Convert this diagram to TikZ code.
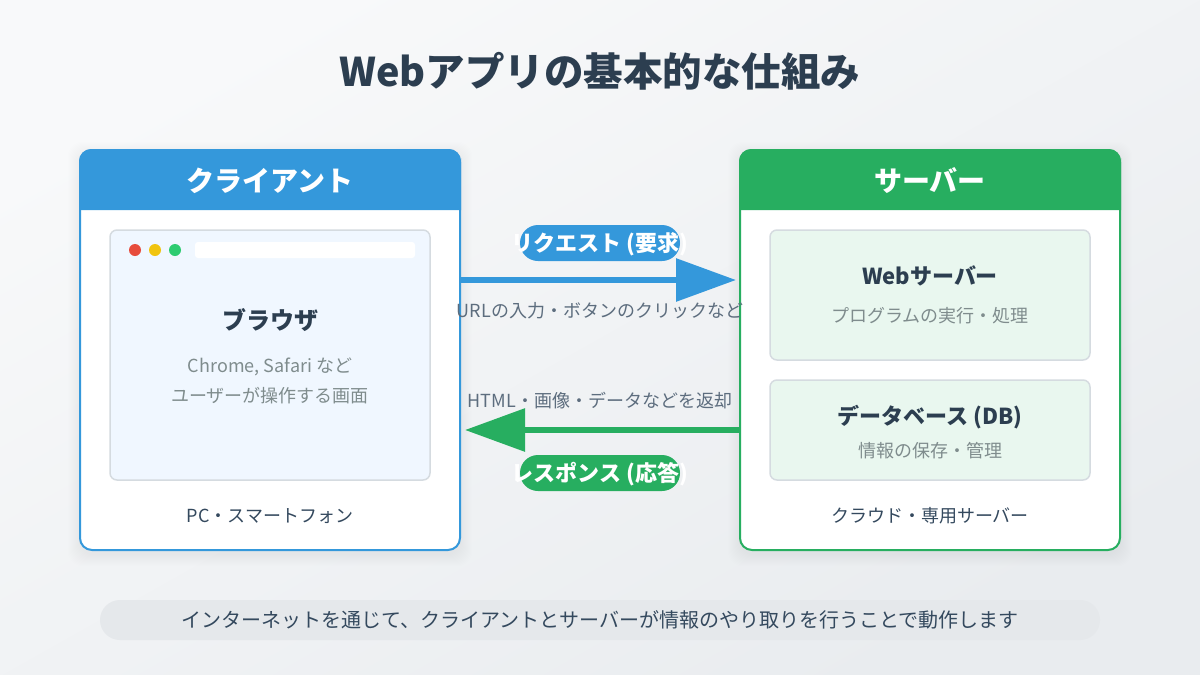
\documentclass[tikz,border=0pt]{standalone}
\usepackage{fontspec}
\setmainfont{Noto Sans CJK JP}
\usepackage{xcolor}
\usetikzlibrary{arrows.meta}

\definecolor{bgstart}{HTML}{F8F9FA}
\definecolor{bgend}{HTML}{E9ECEF}
\definecolor{clientblue}{HTML}{3498DB}
\definecolor{servergreen}{HTML}{27AE60}
\definecolor{inkdark}{HTML}{2C3E50}
\definecolor{inkmid}{HTML}{34495E}
\definecolor{inkarrow}{HTML}{5D6D7E}
\definecolor{inkgrey}{HTML}{7F8C8D}
\definecolor{browserfill}{HTML}{F0F7FF}
\definecolor{boxfill}{HTML}{E9F7EF}
\definecolor{boxline}{HTML}{D5DBE0}
\definecolor{notefill}{HTML}{E5E8EB}
\definecolor{dotred}{HTML}{E74C3C}
\definecolor{dotyellow}{HTML}{F1C40F}
\definecolor{dotgreen}{HTML}{2ECC71}

\tikzset{
    card/.style={draw=#1, line width=2pt, fill=white, rounded corners=12pt, inner sep=0pt, minimum width=380pt, minimum height=400pt},
    innerbox/.style={draw=boxline, line width=1.5pt, fill=#1, rounded corners=7pt, inner sep=0pt, minimum width=320pt},
    pill/.style={fill=#1, rounded corners=18pt, inner sep=0pt, minimum width=160pt, minimum height=36pt},
    dot/.style={circle, fill=#1, inner sep=0pt, minimum size=12pt},
    label/.style={anchor=base, inner sep=0pt, text=#1},
    big/.style={font=\bfseries\fontsize{39.5}{48}\selectfont},
    head/.style={font=\bfseries\fontsize{28}{34}\selectfont},
    sub/.style={font=\bfseries\fontsize{22}{28}\selectfont},
    small/.style={font=\fontsize{18}{22}\selectfont},
    flow/.style={draw=#1, line width=6pt, -{Triangle[length=60pt,width=42pt]}},
}

\begin{document}
\begin{tikzpicture}[x=1pt, y=-1pt]
    \useasboundingbox (0,0) rectangle (1200,675);
    \shade[left color=bgstart, right color=bgend, shading angle=29.4] (0,0) rectangle (1200,675);

    \node[label=inkdark, big] (title) at (600,86) {Webアプリの基本的な仕組み};

    \foreach \grow in {1,...,12} {
        \fill[black, opacity=0.0035, rounded corners=14pt] (80-\grow,154-\grow) rectangle (460+\grow,554+\grow);
        \fill[black, opacity=0.0035, rounded corners=14pt] (740-\grow,154-\grow) rectangle (1120+\grow,554+\grow);
    }

    \node[card=clientblue] (client) at (270,350) {};
    \fill[clientblue, rounded corners=12pt] (79,210) [sharp corners] -- (79,170) [rounded corners=12pt] -- (79,149) -- (461,149) -- (461,170) [sharp corners] -- (461,210) -- cycle;
    \node[label=white, head] (clienthead) at (270,191) {クライアント};

    \node[innerbox=browserfill, minimum height=250pt] (browser) at (270,355) {};
    \node[dot=dotred] (reddot) at (135,250) {};
    \node[dot=dotyellow] (yellowdot) at (155,250) {};
    \node[dot=dotgreen] (greendot) at (175,250) {};
    \node[fill=white, rounded corners=3pt, inner sep=0pt, minimum width=220pt, minimum height=16pt] (addressbar) at (305,250) {};
    \node[label=inkdark, font=\bfseries\fontsize{24}{28}\selectfont] (browsername) at (270,329) {ブラウザ};
    \node[label=inkgrey, small] (browserline1) at (270,372) {Chrome, Safari など};
    \node[label=inkgrey, small] (browserline2) at (270,402) {ユーザーが操作する画面};
    \node[label=inkmid, small] (clientfoot) at (270,522) {PC・スマートフォン};

    \node[card=servergreen] (server) at (930,350) {};
    \fill[servergreen, rounded corners=12pt] (739,210) [sharp corners] -- (739,170) [rounded corners=12pt] -- (739,149) -- (1121,149) -- (1121,170) [sharp corners] -- (1121,210) -- cycle;
    \node[label=white, head] (serverhead) at (930,191) {サーバー};

    \node[innerbox=boxfill, minimum height=130pt] (webbox) at (930,295) {};
    \node[label=inkdark, sub] (webname) at (930,284) {Webサーバー};
    \node[label=inkgrey, small] (webtext) at (930,322) {プログラムの実行・処理};

    \node[innerbox=boxfill, minimum height=100pt] (dbbox) at (930,430) {};
    \node[label=inkdark, sub] (dbname) at (930,424) {データベース (DB)};
    \node[label=inkgrey, small] (dbtext) at (930,457) {情報の保存・管理};
    \node[label=inkmid, small] (serverfoot) at (930,522) {クラウド・専用サーバー};

    \coordinate (reqtip) at (736,280);
    \coordinate (resptip) at (465,430);
    \draw[flow=clientblue] (client.east |- reqtip) -- (reqtip);
    \draw[flow=servergreen] (server.west |- resptip) -- (resptip);

    \node[pill=clientblue] (reqpill) at (600,243) {};
    \node[label=white, sub] (reqtext) at (600,251) {リクエスト (要求)};
    \node[label=inkarrow, small] (reqnote) at (600,317) {URLの入力・ボタンのクリックなど};

    \node[label=inkarrow, small] (respnote) at (600,407) {HTML・画像・データなどを返却};
    \node[pill=servergreen] (resppill) at (600,473) {};
    \node[label=white, sub] (resptext) at (600,481) {レスポンス (応答)};

    \node[fill=notefill, rounded corners=20pt, inner sep=0pt, minimum width=1000pt, minimum height=40pt] (notebar) at (600,620) {};
    \node[label=inkmid, font=\fontsize{20}{24}\selectfont] (notetext) at (600,627) {インターネットを通じて、クライアントとサーバーが情報のやり取りを行うことで動作します};
\end{tikzpicture}
\end{document}
